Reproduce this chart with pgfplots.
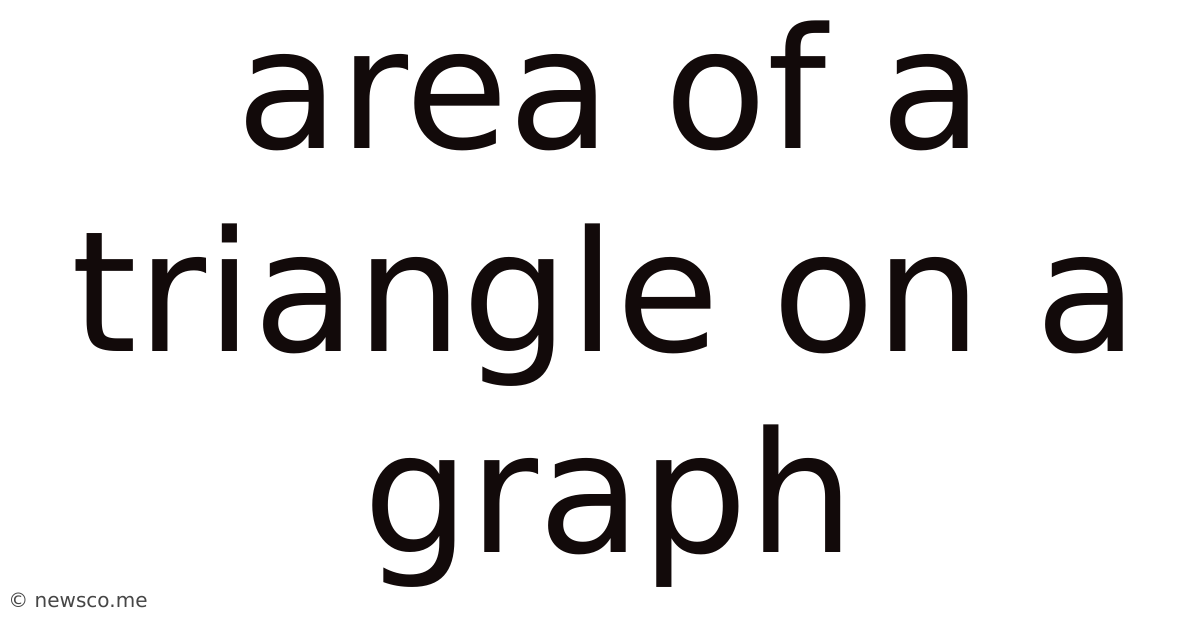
\documentclass[border=0pt]{standalone}
\usepackage{fontspec}
\setmainfont{DejaVu Sans}
\usepackage{pgfplots}
\pgfplotsset{compat=1.18}
\definecolor{ink}{RGB}{18,10,10}
\definecolor{foot}{RGB}{70,70,70}
\begin{document}
\begin{tikzpicture}
  \begin{axis}[
    width=600pt, height=314pt,
    scale only axis,
    xmin=0, xmax=1200,
    ymin=0, ymax=628,
    y dir=reverse,
    hide axis,
    clip=false,
  ]
  % white page
  \fill[white] (axis cs:0,0) rectangle (axis cs:1200,628);
  % title, one node per line, at its pixel baseline
  \node[anchor=base, inner sep=0pt, text=ink, font=\fontsize{84pt}{101pt}\selectfont]
    at (axis cs:610,148) {area of a};
  \node[anchor=base, inner sep=0pt, text=ink, font=\fontsize{84pt}{101pt}\selectfont]
    at (axis cs:605,351) {triangle on a};
  \node[anchor=base, inner sep=0pt, text=ink, font=\fontsize{84pt}{101pt}\selectfont]
    at (axis cs:609,552) {graph};
  % footer
  \node[anchor=base west, inner sep=0pt, text=foot, font=\fontsize{10pt}{12pt}\selectfont]
    at (axis cs:8,607) {© newsco.me};
  \end{axis}
\end{tikzpicture}
\end{document}
